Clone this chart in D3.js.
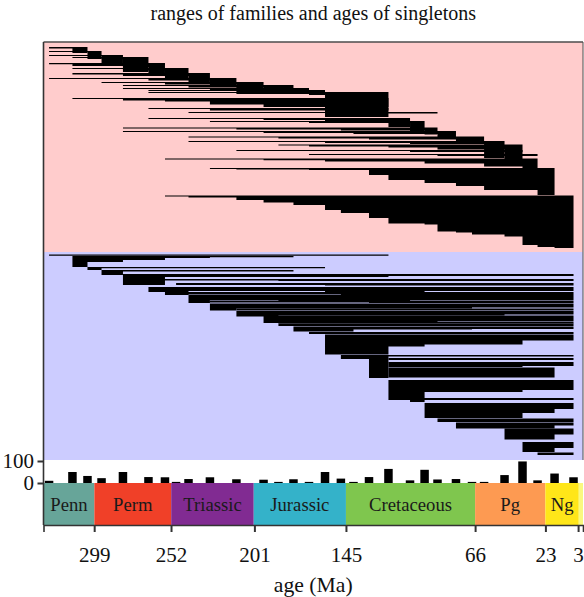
<!DOCTYPE html>
<html><head><meta charset="utf-8">
<script src="https://cdn.jsdelivr.net/npm/d3@7"></script>
<style>
body{margin:0;background:#fff}
svg{display:block}
text{font-family:"Liberation Serif","Times New Roman",serif;fill:#111}
</style>
</head><body>
<svg id="c" width="584" height="597"></svg>
<script>
// ---- data ----
const binAges = [326.6,312.3,303.1,294.5,281.4,265.8,255.7,248.9,241.3,228.2,212.0,195.4,186.3,177.1,167.6,157.8,148.1,140.4,130.9,119.0,105.8,96.9,89.0,77.7,67.9,60.5,48.0,37.0,27.8,17.4,5.8];
const singletons = [10,50,32,22,50,27,26,5,18,26,17,15,5,17,5,50,20,5,27,64,12,60,16,18,5,5,36,98,12,43,26];
const xTickValues = [299,252,201,145,66,23,3];
const singletonTicks = [0,100];
const periodNames = ["Penn","Perm","Triassic","Jurassic","Cretaceous","Pg","Ng",""];
const periodStarts = [330,298.9,251.9,201.4,145,66,23.03,2.58];
const periodEnds = [298.9,251.9,201.4,145,66,23.03,2.58,0];
const periodColors = ["#67A599","#F04028","#812B92","#34B2C9","#7FC64E","#FD9A52","#FFE619","#F9F97F"];

// families: [row, firstBin, lastBin, [[bin, thickness], ...]]
const topFamilies = [
  [5,0,2,[[0,1.5],[1,6]]],
  [9,0,3,[[0,1],[2,8]]],
  [13,0,4,[[0,1],[3,8]]],
  [15,1,5,[[1,1],[3,2],[4,15]]],
  [21,0,6,[[0,1.2],[1,3],[4,4],[5,10]]],
  [26,1,8,[[1,1],[4,2.5],[6,12]]],
  [31,1,9,[[1,1.5],[4,3],[8,9]]],
  [36,0,10,[[0,1],[5,2.5],[9,7]]],
  [40,3,11,[[3,1],[6,2.5],[10,8]]],
  [43,4,13,[[4,1],[8,2.5],[11,7]]],
  [46,4,14,[[4,1],[9,2.5],[13,5]]],
  [48,5,15,[[5,1],[10,2.5],[14,5]]],
  [50,5,19,[[5,1],[10,2],[15,25]]],
  [56,1,19,[[1,1],[4,2.5],[6,3.5],[9,6.5],[11,9]]],
  [66,5,19,[[5,1],[9,2.5]]],
  [70,8,22,[[8,1],[16,1.5]]],
  [76,5,20,[[5,1],[11,2],[15,3],[19,9]]],
  [79,9,21,[[9,1],[14,2],[20,10]]],
  [85.5,4,22,[[4,1],[10,2],[16,3],[21,7]]],
  [89,4,23,[[4,1],[11,2],[17,3],[22,6]]],
  [94.5,8,25,[[8,1],[12,2],[18,3],[23,6]]],
  [99,8,26,[[8,1],[15,2],[20,3],[25,17]]],
  [102.5,12,27,[[12,1],[14,2],[19,3],[22,5],[26,18]]],
  [108,10,27,[[10,1],[20,2]]],
  [112,14,28,[[14,1],[22,2]]],
  [116.5,6,28,[[6,1],[11,1.8],[15,3],[21,5],[25,8],[27,28]]],
  [126,9,29,[[9,1],[10,1.5],[14,2],[18,7],[19,12],[21,15],[23,18],[25,22],[28,27]]],
  [153.5,6,30,[[6,1],[8,2],[10,4.5],[11,7],[13,9.5],[15,14.5],[16,17.5],[18,22.5],[19,28],[21,29],[22,36],[23,37],[24,39],[26,41],[27,49.5],[28,51.5],[29,52.5]]]
];
const bottomFamilies = [
  [2.5,0,19,[[0,1.2]]],
  [4,1,13,[[1,11],[2,6],[4,4],[6,2],[9,1.2]]],
  [15,2,15,[[2,3],[3,1.2]]],
  [18,3,13,[[3,5],[4,1.5]]],
  [22,4,30,[[4,11],[6,3],[19,2]]],
  [27,5,30,[[5,1.5],[12,2]]],
  [31,7,30,[[7,2],[15,2.5]]],
  [35,5,30,[[5,5],[8,4],[15,5],[21,4]]],
  [40,6,30,[[6,3],[8,2.5],[16,3]]],
  [43,8,30,[[8,8],[9,5],[12,6],[20,5]]],
  [48.5,9,30,[[9,2],[18,2.5]]],
  [51.5,9,30,[[9,7],[10,5],[16,5],[24,4]]],
  [56.5,10,30,[[10,1.5]]],
  [58.5,10,30,[[10,6],[12,5],[19,5],[26,4]]],
  [63.5,11,30,[[11,1.5]]],
  [65,11,30,[[11,6],[15,5],[22,4]]],
  [69.5,12,30,[[12,2]]],
  [71.5,12,30,[[12,2.5]]],
  [74.5,13,30,[[13,5],[17,3],[24,2.5]]],
  [80,14,30,[[14,2]]],
  [82.5,15,30,[[15,20],[19,12],[21,10],[27,6]]],
  [103,16,30,[[16,4],[18,23],[19,1.5]]],
  [106,19,30,[[19,2]]],
  [110,19,30,[[19,5],[27,4]]],
  [115.5,19,29,[[19,10]]],
  [128,19,30,[[19,20],[21,12],[27,10]]],
  [146,20,30,[[20,4],[21,2]]],
  [151,21,30,[[21,15],[27,10],[29,6]]],
  [166.5,22,30,[[22,3.5]]],
  [170.5,23,30,[[23,6],[29,3]]],
  [176.5,26,30,[[26,11],[29,6]]],
  [190,27,30,[[27,10],[29,6]]],
  [200.5,28,30,[[28,2.5]]]
];

// ---- layout ----
const L = 43.5, R = 583, T = 42, MID = 252, B = 460, S0 = 483, TS = 525;
const svg = d3.select("#c");
const x = d3.scaleLinear().domain([330, 0]).range([L, R]);
const yTop = d3.scaleLinear().domain([0, 210]).range([T, MID]);
const yBot = d3.scaleLinear().domain([0, 208]).range([MID, B]);
const yS = d3.scaleLinear().domain([0, 100]).range([S0, 461]);

svg.append("rect").attr("x", L).attr("y", T).attr("width", R - L).attr("height", MID - T).attr("fill", "#FFCCCC");
svg.append("rect").attr("x", L).attr("y", MID).attr("width", R - L).attr("height", B - MID).attr("fill", "#CCCCFF");

function thickAt(steps, i) {
  let t = 0;
  for (const [b, v] of steps) if (b <= i) t = v;
  return t;
}
function drawFamilies(list, ys, cls) {
  const area = d3.area()
    .x(d => x(binAges[d.i]))
    .y0(d => ys(d.row))
    .y1(d => ys(d.row + d.t))
    .curve(d3.curveStepAfter);
  svg.append("g").attr("class", cls).selectAll("path").data(list).join("path")
    .attr("d", ([row, s, e, steps]) => area(d3.range(s, e + 1).map(i => ({ i, row, t: thickAt(steps, Math.min(i, e - 1)) }))))
    .attr("fill", "#000");
}
drawFamilies(topFamilies, yTop, "top");
drawFamilies(bottomFamilies, yBot, "bottom");

// singleton bars
svg.append("g").selectAll("rect").data(singletons).join("rect")
  .attr("x", (d, i) => x(binAges[i]) - 4.25)
  .attr("width", 8.5)
  .attr("y", d => yS(d))
  .attr("height", d => S0 - yS(d))
  .attr("fill", "#000");

// timescale
const pg = svg.append("g");
periodNames.forEach((n, i) => {
  const x0 = x(periodStarts[i]), x1 = x(periodEnds[i]);
  pg.append("rect").attr("x", x0).attr("y", S0).attr("width", x1 - x0).attr("height", TS - S0).attr("fill", periodColors[i]);
  if (n) pg.append("text").attr("x", (x0 + x1) / 2).attr("y", 510.5).attr("text-anchor", "middle")
    .attr("font-size", 18.7).style("fill", "#1a1a1a").text(n);
});

// frame
svg.append("line").attr("x1", L).attr("x2", R).attr("y1", T).attr("y2", T).attr("stroke", "#4d4d4d").attr("stroke-width", 1.5);
svg.append("line").attr("x1", R).attr("x2", R).attr("y1", T).attr("y2", B).attr("stroke", "#4d4d4d").attr("stroke-width", 1);
svg.append("line").attr("x1", L).attr("x2", L).attr("y1", T).attr("y2", TS).attr("stroke", "#333").attr("stroke-width", 1.6);

// x axis
const xa = svg.append("g").attr("transform", `translate(0,${TS})`)
  .call(d3.axisBottom(x).tickValues(xTickValues).tickFormat(d3.format("d")).tickSizeOuter(0).tickSize(7).tickPadding(15));
xa.select(".domain").attr("stroke", "#333").attr("stroke-width", 1.6);
xa.selectAll(".tick line").attr("stroke", "#333").attr("stroke-width", 2);
xa.selectAll(".tick text").attr("font-size", 21).attr("font-family", "Liberation Serif").style("fill", "#111");

// singleton y axis
const ya = svg.append("g").attr("transform", `translate(${L},0)`)
  .call(d3.axisLeft(yS).tickValues(singletonTicks).tickSize(6).tickPadding(3.5));
ya.select(".domain").remove();
ya.selectAll(".tick line").attr("stroke", "#333").attr("stroke-width", 2);
ya.selectAll(".tick text").attr("font-size", 21).attr("font-family", "Liberation Serif").style("fill", "#111");

// labels
svg.append("text").attr("x", (L + R) / 2).attr("y", 19.5).attr("text-anchor", "middle").attr("font-size", 20)
  .text("ranges of families and ages of singletons");
svg.append("text").attr("x", (L + R) / 2).attr("y", 592).attr("text-anchor", "middle").attr("font-size", 21.7)
  .text("age (Ma)");
</script>
</body></html>
